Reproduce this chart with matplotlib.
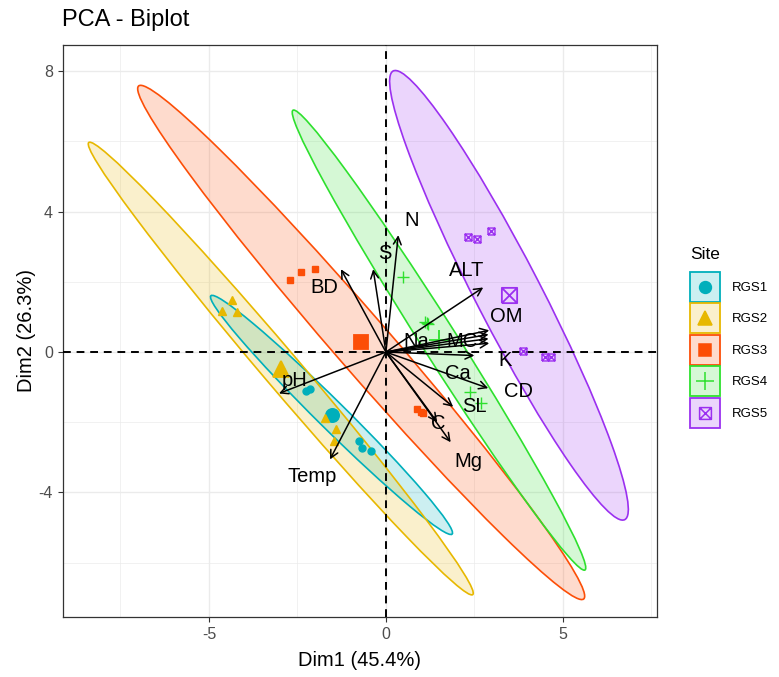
import numpy as np
import matplotlib
matplotlib.use('Agg')
import matplotlib.pyplot as plt
from matplotlib.patches import Ellipse, Rectangle
from matplotlib.lines import Line2D
from matplotlib.path import Path
from matplotlib.legend_handler import HandlerBase
from matplotlib.colors import to_rgba

plt.rcParams['font.family'] = ['Liberation Sans', 'DejaVu Sans']
plt.rcParams['axes.unicode_minus'] = False

# ---------------- data ----------------
groups = ['RGS1', 'RGS2', 'RGS3', 'RGS4', 'RGS5']
colors = ['#00AFBB', '#E7B800', '#FC4E07', '#2EE02E', '#9B30F0']

rgs1_x = [-2.26, -0.76, -0.67, -0.43, -2.95, -2.15]
rgs1_y = [-1.11, -2.54, -2.74, -2.81, -0.50, -1.05]
rgs2_x = [-4.34, -4.64, -4.22, -1.42, -1.47, -1.73]
rgs2_y = [1.48, 1.18, 1.13, -2.20, -2.53, -1.88]
rgs3_x = [-2.71, -2.41, -1.99, 0.87, 1.05, 1.00]
rgs3_y = [2.05, 2.29, 2.36, -1.63, -1.73, -1.70]
rgs4_x = [0.47, 2.70, 2.37, 1.20, 1.10, 1.16]
rgs4_y = [2.15, -1.46, -1.13, 0.80, 0.85, 0.83]
rgs5_x = [2.33, 2.56, 2.96, 3.86, 4.49, 4.66]
rgs5_y = [3.27, 3.21, 3.46, 0.04, -0.14, -0.14]

# concentration ellipses: semi-major, semi-minor, angle (deg)
ell_a = [4.81, 8.42, 9.64, 7.74, 7.18]
ell_b = [0.40, 0.52, 0.78, 0.50, 0.92]
ell_angle = [-44.9, -49.9, -49.3, -57.8, -62.9]

# variables (arrow tips) and their label positions
var_names = ['N', 'S', 'BD', 'ALT', 'OM', 'MC', 'Na', 'K', 'Ca', 'CD', 'SL', 'C', 'Mg', 'Temp', 'pH']
var_x = [0.35, -0.36, -1.27, 2.75, 2.92, 2.90, 2.90, 2.92, 2.50, 2.89, 1.90, 1.45, 1.83, -1.58, -3.02]
var_y = [3.33, 2.36, 2.36, 1.84, 0.62, 0.50, 0.38, 0.25, -0.10, -1.03, -1.56, -2.00, -2.57, -3.06, -1.18]
lab_x = [0.73, -0.03, -1.75, 2.28, 3.41, 2.14, 0.87, 3.36, 2.04, 3.74, 2.51, 1.48, 2.32, -2.07, -2.57]
lab_y = [3.76, 2.82, 1.84, 2.31, 1.01, 0.29, 0.29, -0.23, -0.61, -1.13, -1.56, -2.03, -3.13, -3.55, -0.80]

x_ticks = [-5, 0, 5]
y_ticks = [-4, 0, 4, 8]
x_label = 'Dim1 (45.4%)'
y_label = 'Dim2 (26.3%)'
title = 'PCA - Biplot'

# ---------------- markers ----------------
boxx = Path([(-1, -1), (1, -1), (1, 1), (-1, 1), (-1, -1),
             (-1, -1), (1, 1), (-1, 1), (1, -1)],
            [Path.MOVETO, Path.LINETO, Path.LINETO, Path.LINETO, Path.LINETO,
             Path.MOVETO, Path.LINETO, Path.MOVETO, Path.LINETO])
markers = ['o', '^', 's', '+', boxx]
small_ms = [5.0, 5.5, 5.0, 8.0, 5.0]
big_ms = [9.5, 11, 9.5, 14, 11]
leg_ms = [8.5, 9.5, 8.5, 13, 8.5]
filled = [True, True, True, False, False]

xs = [rgs1_x, rgs2_x, rgs3_x, rgs4_x, rgs5_x]
ys = [rgs1_y, rgs2_y, rgs3_y, rgs4_y, rgs5_y]


class KeySpec:
    def __init__(self, color, marker, ms, filled):
        self.color, self.marker, self.ms, self.filled = color, marker, ms, filled


class KeyHandler(HandlerBase):
    def create_artists(self, legend, orig_handle, xdescent, ydescent, width, height,
                       fontsize, trans):
        c = orig_handle.color
        rect = Rectangle((-xdescent, -ydescent), width, height,
                         facecolor=to_rgba(c, 0.2), edgecolor=c, lw=1.3, transform=trans)
        mk = Line2D([width / 2 - xdescent], [height / 2 - ydescent], ls='none',
                    marker=orig_handle.marker, ms=orig_handle.ms,
                    mfc=c if orig_handle.filled else 'none', mec=c, mew=1.1,
                    transform=trans)
        return [rect, mk]


# ---------------- figure ----------------
fig = plt.figure(figsize=(7.79, 6.77), dpi=100)
ax = fig.add_axes([0.0805, 0.0886, 0.7625, 0.845])
ax.set_xlim(-9.13, 7.65)
ax.set_ylim(-7.55, 8.75)

ax.set_xticks(x_ticks)
ax.set_yticks(y_ticks)
ax.set_xticks([-7.5, -2.5, 2.5, 7.5], minor=True)
ax.set_yticks([-6, -2, 2, 6], minor=True)
ax.grid(True, which='major', color='#EBEBEB', lw=1.0, zorder=0)
ax.grid(True, which='minor', color='#EBEBEB', lw=0.5, zorder=0)
ax.set_axisbelow(True)
ax.tick_params(which='major', direction='out', length=3.5, width=0.8, color='#333333',
               labelsize=11.5, labelcolor='#4D4D4D')
ax.tick_params(which='minor', length=0)
for s in ax.spines.values():
    s.set_color('#333333')
    s.set_linewidth(0.9)

# ellipses
for i in range(5):
    cx, cy = np.mean(xs[i]), np.mean(ys[i])
    e_fill = Ellipse((cx, cy), 2 * ell_a[i], 2 * ell_b[i], angle=ell_angle[i],
                     facecolor=to_rgba(colors[i], 0.2), edgecolor='none', zorder=1)
    e_line = Ellipse((cx, cy), 2 * ell_a[i], 2 * ell_b[i], angle=ell_angle[i],
                     facecolor='none', edgecolor=colors[i], lw=1.2, zorder=2)
    ax.add_patch(e_fill)
    ax.add_patch(e_line)

# zero lines
ax.axhline(0, color='black', lw=1.4, ls=(0, (4, 3)), zorder=3)
ax.axvline(0, color='black', lw=1.4, ls=(0, (4, 3)), zorder=3)

# points and group means
for i in range(5):
    fc = colors[i] if filled[i] else 'none'
    ax.plot(xs[i], ys[i], ls='none', marker=markers[i], ms=small_ms[i],
            mfc=fc, mec=colors[i], mew=1.0, zorder=4)
    ax.plot([np.mean(xs[i])], [np.mean(ys[i])], ls='none', marker=markers[i],
            ms=big_ms[i], mfc=fc, mec=colors[i], mew=1.3, zorder=4)

# variable arrows
for name, vx, vy, lx, ly in zip(var_names, var_x, var_y, lab_x, lab_y):
    ax.annotate('', xy=(vx, vy), xytext=(0, 0),
                arrowprops=dict(arrowstyle='->,head_length=0.55,head_width=0.28',
                                color='black', lw=1.1, shrinkA=0, shrinkB=0),
                zorder=5)
    ax.text(lx, ly, name, fontsize=14.5, ha='center', va='center', color='black', zorder=6)

ax.set_xlabel(x_label, fontsize=14.5, labelpad=7)
ax.set_ylabel(y_label, fontsize=14.5, labelpad=2)
fig.text(62 / 779, 1 - 20 / 677, title, fontsize=17, ha='left', va='center')

# legend
handles = [KeySpec(colors[i], markers[i], leg_ms[i], filled[i]) for i in range(5)]
leg = fig.legend(handles, groups, title='Site', loc='upper left',
                 bbox_to_anchor=(690 / 779, 1 - 247 / 677), frameon=False,
                 fontsize=9.5, title_fontsize=12.5, handlelength=2.27, handleheight=3.12,
                 labelspacing=0.115, handletextpad=0.9, borderaxespad=0, borderpad=0,
                 alignment='left', handler_map={KeySpec: KeyHandler()})
leg._legend_box.sep = 7

fig.savefig('out.png', dpi=100)
